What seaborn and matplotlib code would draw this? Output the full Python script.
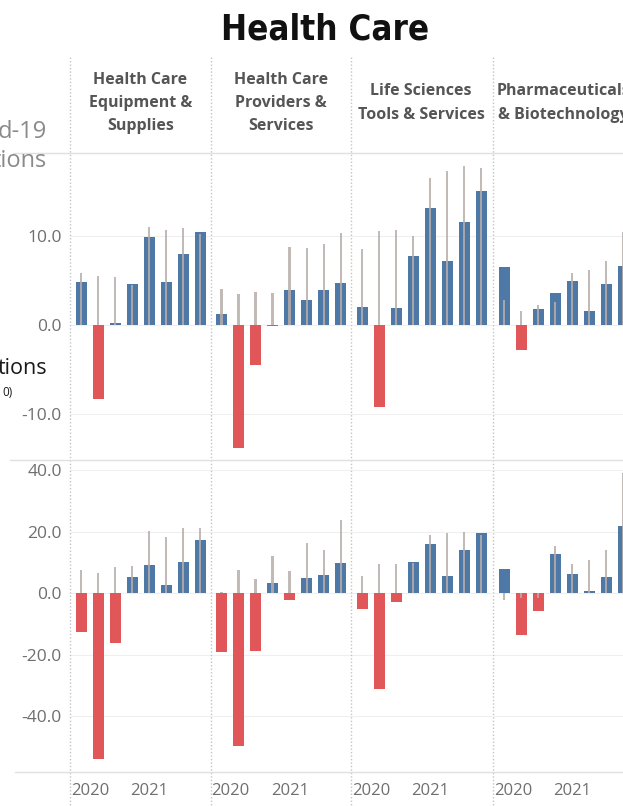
import matplotlib
matplotlib.use("Agg")
import matplotlib.pyplot as plt
import matplotlib.transforms as mtransforms
from matplotlib.lines import Line2D
import pandas as pd
import seaborn as sns

quarters = ["2020Q1", "2020Q2", "2020Q3", "2020Q4", "2021Q1", "2021Q2", "2021Q3", "2021Q4"]
industries = [
    "Health Care\nEquipment &\nSupplies",
    "Health Care\nProviders &\nServices",
    "Life Sciences\nTools & Services",
    "Pharmaceuticals\n& Biotechnology",
]

# top row: bars and gray reference lines
top_equip = [4.8, -8.4, 0.2, 4.6, 9.9, 4.8, 8.0, 10.4]
top_equip_ref = [5.8, 5.5, 5.4, 4.5, 11.0, 10.6, 10.9, 10.2]
top_prov = [1.2, -13.8, -4.5, -0.15, 3.9, 2.8, 3.9, 4.7]
top_prov_ref = [4.0, 3.5, 3.7, 3.6, 8.7, 8.6, 9.1, 10.3]
top_life = [2.0, -9.2, 1.9, 7.7, 13.1, 7.2, 11.6, 15.0]
top_life_ref = [8.5, 10.5, 10.7, 10.0, 16.5, 17.3, 17.8, 17.6]
top_pharma = [6.5, -2.8, 1.8, 3.6, 4.9, 1.5, 4.6, 6.6]
top_pharma_ref = [2.8, 1.6, 2.2, 2.5, 5.8, 6.1, 7.2, 10.4]

# bottom row
bot_equip = [-12.7, -54.0, -16.1, 5.2, 9.0, 2.5, 10.0, 17.2]
bot_equip_ref = [7.4, 6.6, 8.5, 8.8, 20.2, 18.3, 21.3, 21.3]
bot_prov = [-19.1, -49.9, -18.7, 3.3, -2.2, 4.9, 6.0, 9.7]
bot_prov_ref = [0.3, 7.5, 4.5, 11.9, 7.1, 16.1, 13.9, 23.6]
bot_life = [-5.2, -31.2, -3.0, 10.0, 16.0, 5.5, 13.9, 19.4]
bot_life_ref = [5.5, 9.3, 9.3, 9.8, 19.0, 19.4, 19.9, 18.8]
bot_pharma = [7.8, -13.5, -6.0, 12.7, 6.3, 0.7, 5.3, 21.7]
bot_pharma_ref = [-2.2, -1.7, -1.7, 15.2, 9.5, 10.8, 14.1, 39.0]

top_rows = [(top_equip, top_equip_ref), (top_prov, top_prov_ref),
            (top_life, top_life_ref), (top_pharma, top_pharma_ref)]
bot_rows = [(bot_equip, bot_equip_ref), (bot_prov, bot_prov_ref),
            (bot_life, bot_life_ref), (bot_pharma, bot_pharma_ref)]

sns.set_style("white")
plt.rcParams["font.family"] = ["Open Sans", "DejaVu Sans"]
plt.rcParams["axes.unicode_minus"] = False

W, H = 623, 806
fig = plt.figure(figsize=(W / 100, H / 100), dpi=100)

BLUE = "#4e79a7"
RED = "#e15759"
GRAY = "#b8aeaa"
col_left = [70, 210.5, 351, 493]
col_w = 140.5


def add_ax(x0, y0, x1, y1):
    return fig.add_axes([x0 / W, 1 - y1 / H, (x1 - x0) / W, (y1 - y0) / H])


def draw_panel(ax, vals, refs, ylim, yticks, first, bottom):
    df = pd.DataFrame({"quarter": quarters, "value": vals, "ref": refs})
    df["sign"] = ["pos" if v >= 0 else "neg" for v in vals]
    sns.barplot(data=df, x="quarter", y="value", hue="sign",
                hue_order=["pos", "neg"], palette={"pos": BLUE, "neg": RED},
                dodge=False, width=0.65, saturation=1, legend=False,
                linewidth=0, ax=ax)
    sns.barplot(data=df, x="quarter", y="ref", color=GRAY, width=0.14,
                saturation=1, alpha=0.85, linewidth=0, ax=ax)
    ax.set_xlim(-0.65, 7.6)
    ax.set_ylim(*ylim)
    ax.set_xlabel("")
    ax.set_ylabel("")
    for s in ax.spines.values():
        s.set_visible(False)
    ax.set_yticks(yticks)
    ax.set_yticklabels([f"{t:.1f}" for t in yticks])
    ax.grid(axis="y", color="#efefef", lw=0.8)
    ax.set_axisbelow(True)
    if first:
        ax.tick_params(axis="y", length=4, width=1, color="#777777",
                       labelcolor="#6f6f6f", labelsize=12.5, pad=2)
    else:
        ax.tick_params(axis="y", left=False, labelleft=False)
    if bottom:
        ax.set_xticks([0, 4])
        ax.set_xticklabels(["2020", "2021"])
        ax.set_xticks(range(8), minor=True)
        ax.tick_params(axis="x", which="major", length=4, width=1.2,
                       color="#666666", labelcolor="#6f6f6f", labelsize=12, pad=4)
        ax.tick_params(axis="x", which="minor", length=2, width=1, color="#888888")
        lab = ax.get_xticklabels()[0]
        lab.set_transform(lab.get_transform()
                          + mtransforms.ScaledTranslation(0.09, 0, fig.dpi_scale_trans))
    else:
        ax.set_xticks([])


for i in range(4):
    x0 = col_left[i]
    ax_t = add_ax(x0, 153, x0 + col_w, 460)
    draw_panel(ax_t, top_rows[i][0], top_rows[i][1], (-15.2, 19.3),
               [-10, 0, 10], i == 0, False)
    ax_b = add_ax(x0, 460, x0 + col_w, 772)
    draw_panel(ax_b, bot_rows[i][0], bot_rows[i][1], (-58.2, 43.25),
               [-40, -20, 0, 20, 40], i == 0, True)
    fig.text((x0 + col_w / 2) / W, 1 - 103 / H, industries[i], ha="center",
             va="center", fontsize=11.5, weight="bold", color="#555555",
             family=["Open Sans", "DejaVu Sans"], linespacing=1.6)

# dividers
for x in col_left:
    fig.add_artist(Line2D([x / W, x / W], [1 - 57 / H, 0], transform=fig.transFigure,
                          color="#c4c4c4", lw=1, ls=(0, (1, 1.5))))
for y, xs in [(153, 13), (460, 10), (772, 15)]:
    fig.add_artist(Line2D([xs / W, 1], [1 - y / H, 1 - y / H], transform=fig.transFigure,
                          color="#e0e0e0", lw=1))

fig.text(325 / W, 1 - 29 / H, "Health Care", ha="center", va="center",
         fontsize=25, weight="bold", stretch="condensed", color="#111111",
         family=["DejaVu Sans"])

# cut-off side labels
fig.text(47 / W, 1 - 132 / H, "d-19", ha="right", va="center", fontsize=17, color="#8a8a8a")
fig.text(47 / W, 1 - 161 / H, "tions", ha="right", va="center", fontsize=17, color="#8a8a8a")
fig.text(47 / W, 1 - 368 / H, "tions", ha="right", va="center", fontsize=15.5, color="#1a1a1a")
fig.text(13 / W, 1 - 393 / H, "0)", ha="right", va="center", fontsize=8.5, color="#1a1a1a")

fig.savefig("out.png", dpi=100)
